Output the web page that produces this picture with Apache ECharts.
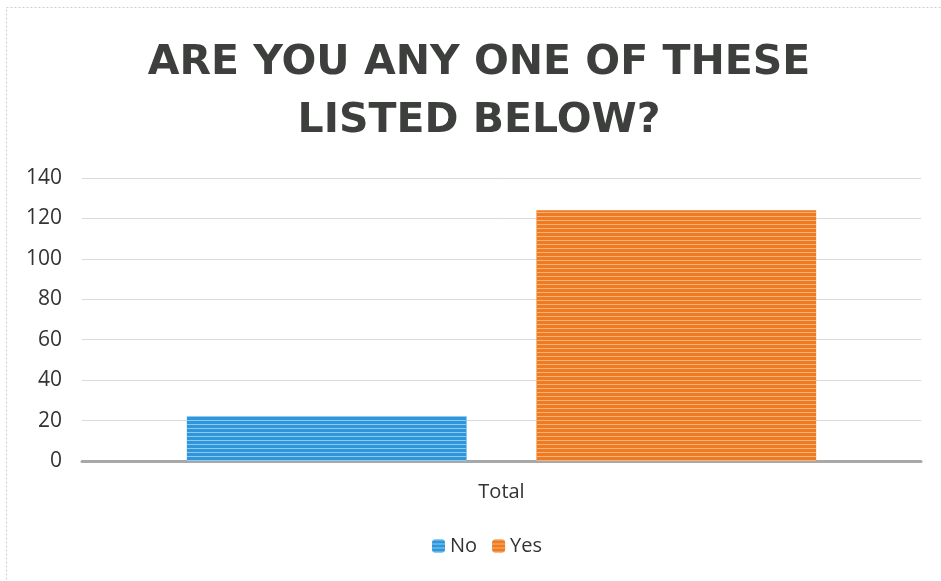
<!DOCTYPE html>
<html>
<head>
<meta charset="utf-8">
<title>Are you any one of these listed below?</title>
<script src="https://cdn.jsdelivr.net/npm/echarts@6/dist/echarts.min.js"></script>
<style>
  html, body { margin: 0; padding: 0; background: #ffffff; }
  #chart { width: 941px; height: 581px; }
</style>
</head>
<body>
<div id="chart"></div>
<script>
// Survey responses
const categories = ['Total'];
const seriesNames = ['No', 'Yes'];
const noValues = [22];
const yesValues = [124];
const yTicks = { min: 0, max: 140, interval: 20 };

const colors = {
  No: { fill: '#2f96dc', stripe: '#8ccaf2' },
  Yes: { fill: '#ee7a22', stripe: '#f8b27a' }
};

function stripeDecal(stripe) {
  return {
    symbol: 'rect',
    color: stripe,
    dashArrayX: [1, 0],
    dashArrayY: [1, 3],
    rotation: 0,
    symbolSize: 1
  };
}

const labelFont = 'Open Sans';

const chart = echarts.init(document.getElementById('chart'), null, { renderer: 'canvas' });

chart.setOption({
  animation: false,
  backgroundColor: '#ffffff',
  title: {
    text: 'ARE YOU ANY ONE OF THESE\nLISTED BELOW?',
    left: 474,
    textAlign: 'center',
    top: 29,
    textStyle: {
      fontFamily: 'DejaVu Sans',
      fontWeight: 'bold',
      fontSize: 41,
      lineHeight: 58,
      color: '#3d3f3d'
    }
  },
  graphic: [{
    type: 'rect',
    shape: { x: 6.5, y: 7.5, width: 960, height: 600 },
    style: { fill: 'none', stroke: '#cfcfcf', lineWidth: 1, lineDash: [2, 2] },
    silent: true
  }],
  legend: {
    data: seriesNames,
    bottom: 20,
    left: 427,
    itemWidth: 13,
    itemHeight: 13,
    itemGap: 15,
    textStyle: { fontFamily: labelFont, fontSize: 20, color: '#333333' }
  },
  grid: { left: 82, right: 20, top: 178, bottom: 120 },
  xAxis: {
    type: 'category',
    data: categories,
    axisLine: { show: true, lineStyle: { color: '#a8a8a8', width: 3 } },
    axisTick: { show: false },
    axisLabel: { fontFamily: labelFont, fontSize: 20, color: '#333333', margin: 21 }
  },
  yAxis: {
    type: 'value',
    min: yTicks.min,
    max: yTicks.max,
    interval: yTicks.interval,
    axisLine: { show: false },
    axisTick: { show: false },
    axisLabel: { fontFamily: labelFont, fontSize: 21, color: '#333333', margin: 20 },
    splitLine: { lineStyle: { color: '#d9d9d9', width: 1 } }
  },
  series: [
    {
      name: 'No',
      type: 'bar',
      data: noValues,
      barGap: '25%',
      barCategoryGap: '25%',
      itemStyle: { color: colors.No.fill, decal: stripeDecal(colors.No.stripe) }
    },
    {
      name: 'Yes',
      type: 'bar',
      data: yesValues,
      itemStyle: { color: colors.Yes.fill, decal: stripeDecal(colors.Yes.stripe) }
    }
  ]
});
</script>
</body>
</html>
